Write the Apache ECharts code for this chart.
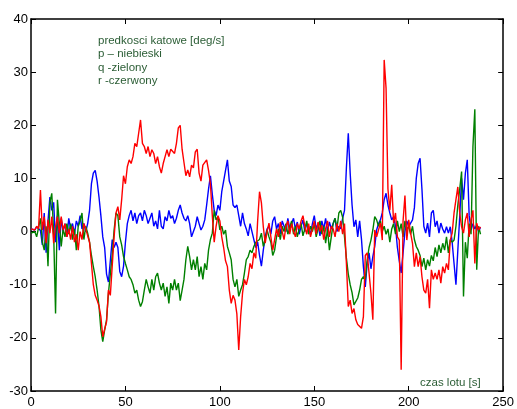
<!DOCTYPE html>
<html>
<head>
<meta charset="utf-8">
<script src="https://cdn.jsdelivr.net/npm/echarts@6/dist/echarts.min.js"></script>
<style>
html,body{margin:0;padding:0;background:#fff;}
#chart{width:517px;height:409px;}
</style>
</head>
<body>
<div id="chart"></div>
<script>
// sampling grid of the recorded flight (seconds)
const timeStart = 0;
const timeStep = 1;

// p - roll rate (blue) [deg/s]
const pValues = [
0.5,0.8,0.3,0.9,1.0,0.2,-2.5,3.5,-4,2,
6.5,4,5.5,-2,3,-3.5,2.5,0,1.5,-1,
2.5,0.5,1.5,-0.5,2,1,3,0.5,1.5,0,
1.5,4,9,11,11.5,9.5,6.5,3,-1,-3,
-8,-9.5,-5.5,-1.5,-3,-2,-3,-7.5,-8.5,-6.5,
-2,1.5,3,4,2,3.5,1.5,3,3.5,2,
4,3,1.5,2.5,3.5,1,2,0.5,4,1,
0.5,2.8,2,4,2.5,3,1.5,2.5,4,5,
3.5,2.5,2,3,1.5,-1,0,1,2.8,1.5,
0.3,1,2.2,5,8,10.5,7,4,3,5,
4,7.5,9.5,11.5,13.5,9.5,8.5,5,4.5,5,
3,1,3.5,1.5,0.5,-0.8,1.5,0,-1.5,-3,
-2,-4.5,-6.5,-3.5,-1,0.5,1,-0.5,2,2.8,
0.5,1.5,-0.5,2,1,0,2.5,0.5,1.5,2.5,
0.5,1.8,-0.5,1,2.2,0,1.5,0.5,-0.5,1.5,
3,0.5,1.5,-0.8,2,0.5,2.5,0,1.8,0.5,
1.5,2.5,0,1,0.5,2.5,4,12,18.5,11,
5,0.9,2.2,-1,2,-1.5,-6.6,-10.4,-6,-4,
-7,-4.7,-2.8,0.3,1.5,2.2,3.5,6,7.2,5,
3.5,2.2,2.8,1,-3,-5.5,-7.8,-4,0,2,
0.9,1.6,2.2,4.5,10,12.8,13.8,8,1,-0.3,
1.6,-1,3.5,4,0.9,2,-0.3,1.6,0.5,-0.3,
0.9,-0.3,0.9,-2,-6,-10,-3.5,2.8,10,6,
11,13.5,3,0.3,1.5,0.5,1.2,0,0.8
];

// q - pitch rate (green) [deg/s]
const qValues = [
-0.3,-0.5,0,-1,-1,2.5,-2,-3.5,1,-6.5,
5.5,7.2,-0.3,-15.4,6,1.6,-2.8,0.5,-1,1.5,
-0.5,1.5,-1.5,0.5,-3.5,1,2,3.5,-1.5,1,
-0.3,-2,-4.5,-6.6,-8.5,-11,-14,-18.5,-20.7,-18.5,
-16.6,-11.6,-8,-4.5,0.3,3.5,3,-1,-2.5,-4.7,
-6,-7.2,-8.5,-9,-10,-11.6,-11,-12.9,-14.1,-13.2,
-11,-9,-10.4,-11.6,-9,-11,-8.5,-7.8,-9.7,-11,
-9.7,-12.2,-10.4,-13.5,-9.7,-11,-9,-11,-9.7,-13,
-11,-9,-5.3,-2.8,-4.7,-7.2,-5.3,-7.2,-4.7,-8.5,
-6.6,-9,-6,-7.2,-3.5,-1.5,-0.3,4,2.2,2.8,
0.3,1,-0.5,0.3,-2.8,-4,-5.3,-9,-10.4,-9,
-12.2,-11,-10,-7.8,-5.3,-4.7,-3.5,-4,-2.8,-2,
-2.2,-1.5,-0.3,-2.8,-1.5,0.3,-1,-2,-4.5,-3.5,
-1,0.5,-1.5,1,0,1.5,-0.5,0.8,2,-0.5,
1,-1,0.5,1.5,-0.8,0.5,2,-0.5,1,0,
1.5,-1,0.5,2,-0.5,1,-2.2,0.5,-3.5,-1,
1.5,2.5,0.5,3.5,4,2.7,-1,-5,-8,-10,
-11.5,-13.8,-14,-12.5,-11,-9,-8.5,-9,-5.3,-3,
-1.6,0.3,2.8,2.2,1,2,0,1,-0.5,0.5,
-2,0.5,1.5,-0.5,2,0,1.5,-1,2,0.5,
0.9,-0.5,1,-1.5,-2.8,-3.5,-4.5,-6.6,-5,-7.2,
-5.3,-6.5,-4.5,-5.5,-3,-4.7,-2.5,-4,-2.2,-3.5,
-1,-4,-1.5,-2,-1.6,1,5,8,11.3,-12.2,
-2,-5,1.5,-0.5,16,23,-7.2,1,-0.5
];

// r - yaw rate (red) [deg/s]
const rValues = [
0.5,0.7,0.3,1,0.5,7.8,0.3,2.8,-2.2,2.2,
-0.3,2.8,-2.2,0.9,2.8,-0.3,2.8,0.3,1.5,-1,
0.5,-1.5,1,-2,-0.5,-3.5,0,-1.5,1.5,0.5,
0.5,-2,-6,-10,-12,-12.9,-14,-16,-19.8,-20,
-17,-11,-12,-6.5,-1,3.5,4.7,2.2,6,10.5,
9,12.2,13.5,12.8,14.1,16.6,16,18.5,21,16.6,
16,14.7,16,14.1,15.4,14.7,12.8,14.1,12.2,11,
12.8,14.1,15.4,14.1,15.5,15.8,14.7,16.6,19.5,20,
15.5,13,10.5,11.6,10.3,12.5,12,15,15.5,11,
9.5,12.5,12.2,13.5,11.5,9,3,-2,1,3,
2,-1,-3,-5.5,-6.6,-11,-13.5,-12,-12.9,-15.5,
-22.3,-16,-11.6,-9,-10,-8.5,-6,-7,-4,-5,
2,7.5,5.4,0.9,-2.2,0,1.6,-1,-3.5,-1.5,
0.5,-1,1.8,0,-1.5,1,2,-0.5,1.5,0,
-1,1.5,0.5,2,3,1,-0.5,1.5,-1,0.5,
2,-0.5,1.8,0,1.2,-1.5,0.5,2,-1,1,
0.5,-1,1.5,0,2,-0.5,1.5,-6,-14.1,-12.9,
-15.4,-14.5,-16.6,-17.5,-17.3,-18.2,-16,-4.5,-4,-7.8,
-11.6,-16.6,0.3,-1,0.3,1.6,-1.6,32.3,27,8,
4,8.8,1.6,3.5,-1,-1.6,-26,2,6.8,-1.6,
2.2,-0.3,-2.2,-6.6,-4,-6.6,-4.7,-8.5,-11,-11.6,
-9,-14.4,-7.2,-9,-7.8,-9,-7.2,-9.7,-6.6,-7.8,
-6,-7.2,-1.6,-0.3,3.5,6,8.4,3.5,0.9,-0.3,
2.2,3.5,-1,2.2,4,-6,1.6,0.3,0.9
];

const annotationLines = ['predkosci katowe [deg/s]', 'p \u2013 niebieski', 'q -zielony', 'r -czerwony'];
const xAxisTitle = 'czas lotu [s]';

function toPairs(values) {
  return values.map(function (v, i) { return [timeStart + i * timeStep, v]; });
}

const FONT = '"Liberation Sans", Arial, sans-serif';
const chart = echarts.init(document.getElementById('chart'), null, {renderer: 'canvas'});

const axisCommon = {
  type: 'value',
  axisLine: {show: true, onZero: false, lineStyle: {color: '#000', width: 1.5}},
  axisTick: {show: true, inside: true, length: 5, lineStyle: {color: '#000', width: 1}},
  splitLine: {show: false}
};

chart.setOption({
  animation: false,
  backgroundColor: '#fff',
  grid: {left: 31, right: 13, top: 19, bottom: 17, containLabel: false},
  xAxis: [
    Object.assign({}, axisCommon, {
      min: 0, max: 250, interval: 50, position: 'bottom',
      axisLabel: {show: true, color: '#000', fontSize: 13, fontFamily: FONT, margin: 5}
    }),
    Object.assign({}, axisCommon, {
      min: 0, max: 250, interval: 50, position: 'top',
      axisLabel: {show: false}
    })
  ],
  yAxis: [
    Object.assign({}, axisCommon, {
      min: -30, max: 40, interval: 10, position: 'left',
      axisLabel: {show: true, color: '#000', fontSize: 13, fontFamily: FONT, margin: 3}
    }),
    Object.assign({}, axisCommon, {
      min: -30, max: 40, interval: 10, position: 'right',
      axisLabel: {show: false}
    })
  ],
  series: [
    {name: 'p', type: 'line', xAxisIndex: 0, yAxisIndex: 0, data: toPairs(pValues),
     showSymbol: false, symbol: 'none', lineStyle: {color: '#0000ff', width: 1.4}, itemStyle: {color: '#0000ff'}},
    {name: 'q', type: 'line', xAxisIndex: 0, yAxisIndex: 0, data: toPairs(qValues),
     showSymbol: false, symbol: 'none', lineStyle: {color: '#008000', width: 1.4}, itemStyle: {color: '#008000'}},
    {name: 'r', type: 'line', xAxisIndex: 0, yAxisIndex: 0, data: toPairs(rValues),
     showSymbol: false, symbol: 'none', lineStyle: {color: '#ff0000', width: 1.4}, itemStyle: {color: '#ff0000'}}
  ],
  graphic: [
    {type: 'text', left: 98, top: 34, z: 100,
     style: {text: annotationLines.join('\n'), font: '11.5px ' + FONT, fill: '#2b5d35', lineHeight: 13.5}},
    {type: 'text', left: 420, top: 376, z: 100,
     style: {text: xAxisTitle, font: '11.5px ' + FONT, fill: '#2b5d35', lineHeight: 13.5}}
  ]
});
</script>
</body>
</html>
